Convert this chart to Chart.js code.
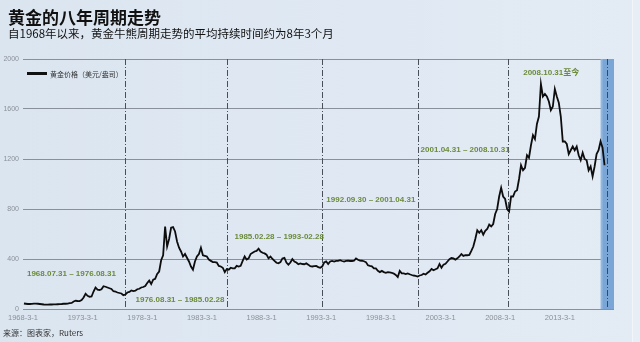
<!DOCTYPE html>
<html><head><meta charset="utf-8">
<script src="https://cdn.jsdelivr.net/npm/chart.js@4/dist/chart.umd.min.js"></script>
<style>
html,body{margin:0;padding:0;}
body{width:640px;height:342px;position:relative;overflow:hidden;background:linear-gradient(90deg,#dbe5f0 0%,#e0e9f3 60%,#e3ebf4 100%);font-family:"Noto Sans CJK SC","Noto Sans",sans-serif;}
#edge{position:absolute;left:632px;top:0;width:8px;height:342px;background:#e8eef5;border-left:1px solid #f2f6fa;}
#title{position:absolute;left:8px;top:6px;font-size:17px;font-weight:bold;color:#111;line-height:22px;}
#sub{position:absolute;left:8px;top:25px;font-size:11.5px;color:#111;line-height:16px;}
#src{position:absolute;left:3px;top:327px;font-size:8px;color:#333;line-height:12px;}
#wrap{position:absolute;left:0;top:0;width:640px;height:342px;}
</style></head>
<body>
<div id="edge"></div>
<div id="wrap"><canvas id="c" width="640" height="342"></canvas></div>
<div id="title">黄金的八年周期走势</div>
<div id="sub">自1968年以来，黄金牛熊周期走势的平均持续时间约为8年3个月</div>
<div id="src">来源：图表家，Ruters</div>
<script>
// ---- data ----
const seriesName = "黄金价格（美元/盎司）";
const firstPeriod = 1968.25;      // Mar-Apr 1968
const periodsPerYear = 6;         // bi-monthly readings
const goldPrice = [
  44,42,40,40,41,                 // 1968
  43,43,42,40,38,36,              // 1969
  35,35,36,36,37,37,              // 1970
  38,39,40,42,42,43,              // 1971
  47,49,60,66,64,63,              // 1972
  72,92,122,105,98,100,           // 1973
  140,172,155,152,158,182,        // 1974
  178,172,166,160,142,140,        // 1975
  132,128,124,110,116,132,        // 1976
  137,148,143,146,158,162,        // 1977
  172,176,184,208,228,200,        // 1978
  235,242,280,300,390,430,        // 1979
  660,500,560,650,655,620,        // 1980
  540,490,460,420,440,410,        // 1981
  380,340,315,380,420,440,        // 1982
  490,430,425,420,395,385,        // 1983
  375,375,372,345,340,330,        // 1984
  295,320,315,330,325,325,        // 1985
  345,340,345,385,420,395,        // 1986
  405,440,450,460,465,482,        // 1987
  460,450,445,435,405,420,        // 1988
  400,385,370,365,375,405,        // 1989
  410,372,355,372,400,380,        // 1990
  372,358,365,360,358,365,        // 1991
  355,342,340,343,345,335,        // 1992
  330,340,372,380,360,380,        // 1993
  385,380,385,385,390,384,        // 1994
  380,385,387,384,384,386,        // 1995
  405,394,387,386,382,375,        // 1996
  350,345,341,325,325,305,        // 1997
  295,305,295,290,295,293,        // 1998
  290,283,272,255,305,285,        // 1999
  285,280,285,278,272,268,        // 2000
  265,260,268,272,282,276,        // 2001
  290,302,320,310,318,325,        // 2002
  360,330,355,362,380,398,        // 2003
  408,405,395,405,420,440,        // 2004
  425,430,430,433,465,500,        // 2005
  560,630,610,630,595,625,        // 2006
  640,675,660,680,760,800,        // 2007
  900,970,900,880,800,780,        // 2008
  900,900,940,950,1040,1150,      // 2009
  1110,1130,1230,1210,1310,1390,  // 2010
  1360,1480,1540,1800,1700,1720,  // 2011
  1700,1660,1590,1620,1760,1700,  // 2012
  1650,1540,1340,1340,1320,1240,  // 2013
  1270,1300,1270,1300,1230,1190,  // 2014
  1250,1200,1190,1110,1140,1060,  // 2015
  1140,1240,1270,1340,1290,1150   // 2016
];
const xTickYears = [1968.17,1973.17,1978.17,1983.17,1988.17,1993.17,1998.17,2003.17,2008.17,2013.17];
const xTickLabels = ["1968-3-1","1973-3-1","1978-3-1","1983-3-1","1988-3-1","1993-3-1","1998-3-1","2003-3-1","2008-3-1","2013-3-1"];
const yTicks = [0,400,800,1200,1600,2000];
const cycleBoundaries = [1976.72,1985.27,1993.23,2001.28,2008.82];
const currentCycle = [2016.59, 2017.71];
const currentMarker = 2017.12;
const cycleLabels = ["1968.07.31 – 1976.08.31","1976.08.31 – 1985.02.28","1985.02.28 – 1993-02.28","1992.09.30 – 2001.04.31","2001.04.31 – 2008.10.31","2008.10.31至今"];
const cycleLabelAnchors = [[1968.5,280],[1977.6,72],[1985.9,574],[1993.6,870],[2001.5,1270],[2010.1,1893]];

const points = goldPrice.map((v,i)=>({x: firstPeriod + i/periodsPerYear, y: v}));

const overlay = {
  id:'overlay',
  beforeDatasetsDraw(chart){
    const {ctx, chartArea:a, scales:{x,y}} = chart;
    ctx.save();
    const b0 = x.getPixelForValue(currentCycle[0]), b1 = x.getPixelForValue(currentCycle[1]);
    ctx.fillStyle = '#7aa6d7';
    ctx.fillRect(b0, a.top, b1-b0, a.bottom-a.top);
    ctx.fillStyle = 'rgba(255,255,255,0.18)';
    ctx.fillRect(b0, a.top, 2, a.bottom-a.top);
    ctx.lineWidth = 1;
    ctx.setLineDash([6,2,1,2]);
    ctx.strokeStyle = '#4a4f57';
    cycleBoundaries.forEach(yr=>{
      const px = Math.round(x.getPixelForValue(yr))+0.5;
      ctx.beginPath(); ctx.moveTo(px, a.top); ctx.lineTo(px, a.bottom); ctx.stroke();
    });
    ctx.strokeStyle = '#1d4e8c';
    const pm = Math.round(x.getPixelForValue(currentMarker))+0.5;
    ctx.beginPath(); ctx.moveTo(pm, a.top); ctx.lineTo(pm, a.bottom); ctx.stroke();
    ctx.restore();
  },
  afterDatasetsDraw(chart){
    const {ctx, chartArea:a, scales:{x,y}} = chart;
    ctx.save();
    ctx.font = 'bold 8px "Liberation Sans","Noto Sans CJK SC",sans-serif';
    ctx.fillStyle = '#6b8b3b';
    ctx.textBaseline = 'middle';
    ctx.textAlign = 'left';
    cycleLabels.forEach((t,i)=>{
      const [yr,val] = cycleLabelAnchors[i];
      ctx.fillText(t, x.getPixelForValue(yr), y.getPixelForValue(val));
    });
    ctx.fillStyle = '#111';
    ctx.fillRect(a.left+4, 72, 20, 3);
    ctx.font = '7px "Noto Sans CJK SC",sans-serif';
    ctx.fillStyle = '#333';
    ctx.fillText(seriesName, a.left+27, 74);
    ctx.restore();
  }
};

new Chart(document.getElementById('c'), {
  type:'line',
  data:{datasets:[{label:seriesName,data:points,borderColor:'#0d0d0d',borderWidth:1.8,pointRadius:0,tension:0,fill:false}]},
  options:{
    responsive:false, animation:false,
    layout:{padding:{top:59,right:26,bottom:13,left:0}},
    plugins:{legend:{display:false},tooltip:{enabled:false}},
    scales:{
      x:{type:'linear',min:1968.17,max:2017.71,
        grid:{display:false,drawTicks:false,tickLength:0},border:{display:false},
        afterBuildTicks(s){s.ticks = xTickYears.map(v=>({value:v}));},
        afterFit(s){s.height=20;},
        ticks:{autoSkip:false,maxRotation:0,padding:4,color:'#8a9098',font:{size:7.5,family:'"Liberation Sans",sans-serif'},
          callback(v){const i=xTickYears.indexOf(v);return i>=0?xTickLabels[i]:'';}}
      },
      y:{min:0,max:2000,
        afterBuildTicks(s){s.ticks = yTicks.map(v=>({value:v}));},
        afterFit(s){s.width=23;},
        grid:{color:'#8a9099',lineWidth:1,drawTicks:false},border:{display:false},
        ticks:{padding:4,color:'#8a9098',font:{size:7,family:'"Liberation Sans",sans-serif'},
          callback(v){return String(v);}}
      }
    }
  },
  plugins:[overlay]
});
</script>
</body></html>
